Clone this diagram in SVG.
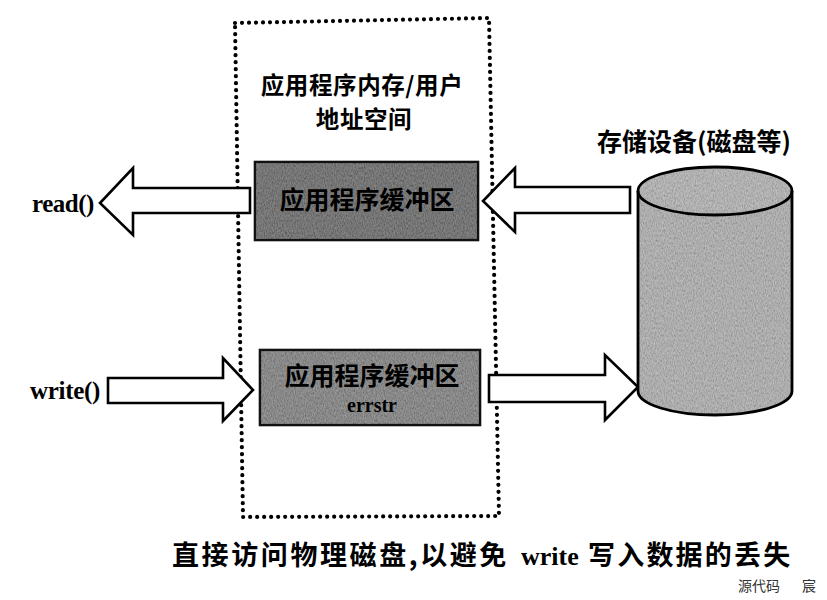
<svg xmlns="http://www.w3.org/2000/svg" width="827" height="600" viewBox="0 0 827 600">
<defs>
<style>
.cjk{font-family:"Noto Sans CJK SC","Noto Sans",sans-serif;font-weight:700;fill:#000}
.ser{font-family:"Liberation Serif","Times New Roman",serif;font-weight:700;fill:#000}
.arrow{fill:#fff;stroke:#000;stroke-width:2.6;stroke-linejoin:miter}
.box{stroke:#111;stroke-width:2.6}
.grain{opacity:0.4}
</style>
<filter id="noise">
<feTurbulence type="fractalNoise" baseFrequency="0.9 0.4" numOctaves="2" seed="7" result="t"/>
<feColorMatrix in="t" type="matrix" values="1 0 0 0 0  1 0 0 0 0  1 0 0 0 0  0 0 0 0 1" result="g"/>
<feComposite in="g" in2="SourceGraphic" operator="in"/>
</filter>
</defs>
<rect width="827" height="600" fill="#fff"/>

<g id="address-space">
<polygon points="235,23 489,18 499,516 243,517" fill="none" stroke="#000" stroke-width="4.2" stroke-linecap="round" stroke-dasharray="0 7"/>
<text class="cjk" x="362" y="94" font-size="23.5" letter-spacing="0.6" text-anchor="middle">应用程序内存/用户</text>
<text class="cjk" x="364" y="128" font-size="23.5" letter-spacing="0.6" text-anchor="middle">地址空间</text>
</g>

<g id="connectors">
<polygon class="arrow" points="250,188 133,188 133,168 100,203 133,235 133,213 250,213"/>
<polygon class="arrow" points="108,378 223,378 223,358 253,390 223,421 223,403 108,403"/>
<polygon class="arrow" points="630,187 515,187 515,168 483,201 515,232 515,213 630,213"/>
<polygon class="arrow" points="489,375 605,375 605,355 638,387 605,420 605,402 489,402"/>
</g>

<g id="read-buffer">
<rect class="box" x="255" y="162" width="223" height="78" fill="#474747"/>
<rect x="256" y="163" width="221" height="76" fill="#888" filter="url(#noise)" class="grain"/>
<text class="cjk" x="367" y="209" font-size="25" text-anchor="middle">应用程序缓冲区</text>
</g>

<g id="write-buffer">
<rect class="box" x="260" y="350" width="220" height="75" fill="#666"/>
<rect x="261" y="351" width="218" height="73" fill="#999" filter="url(#noise)" class="grain"/>
<text class="cjk" x="372" y="385" font-size="25" text-anchor="middle">应用程序缓冲区</text>
<text class="ser" x="372" y="412" font-size="20" text-anchor="middle">errstr</text>
</g>

<g id="read-label">
<text class="ser" x="32" y="212" font-size="25" letter-spacing="-0.5">read()</text>
</g>
<g id="write-label">
<text class="ser" x="30" y="399" font-size="25" letter-spacing="-0.3">write()</text>
</g>

<g id="storage">
<text class="cjk" x="597" y="151" font-size="25">存储设备(磁盘等)</text>
<path d="M638,191 L638,391 A77,24 0 0 0 792,391 L792,191 Z" fill="#a3a3a3"/>
<path d="M638,191 L638,391 A77,24 0 0 0 792,391 L792,191 Z" fill="#bbb" filter="url(#noise)" class="grain"/>
<ellipse cx="715" cy="191" rx="77" ry="24" fill="#a9a9a9"/>
<ellipse cx="715" cy="191" rx="77" ry="24" fill="#bbb" filter="url(#noise)" class="grain"/>
<path d="M638,191 L638,391 A77,24 0 0 0 792,391 L792,191" fill="none" stroke="#000" stroke-width="2.8"/>
<ellipse cx="715" cy="191" rx="77" ry="24" fill="none" stroke="#000" stroke-width="2.8"/>
</g>

<g id="caption">
<text class="cjk" x="172" y="565" font-size="27" letter-spacing="2.6">直接访问物理磁盘,以避免</text>
<text class="ser" x="521" y="565" font-size="26">write</text>
<text class="cjk" x="588" y="565" font-size="27" letter-spacing="2.2">写入数据的丢失</text>
<text x="738" y="591" font-size="14" fill="#333" font-family="Noto Sans CJK SC, sans-serif">源代码</text>
<text x="802" y="591" font-size="14" fill="#333" font-family="Noto Sans CJK SC, sans-serif">宸</text>
</g>
</svg>
